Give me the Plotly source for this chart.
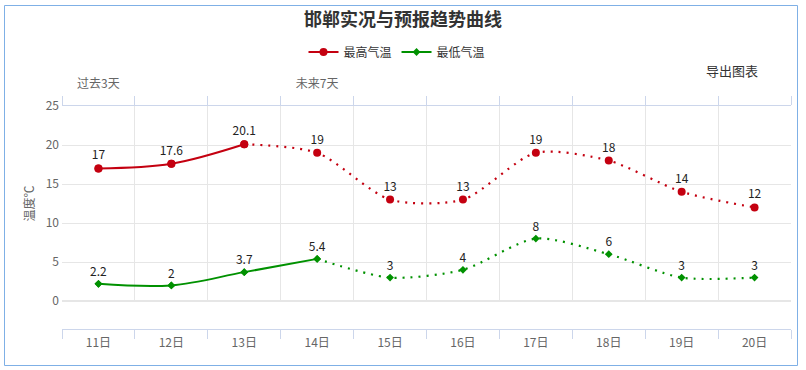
import plotly.graph_objects as go

days = ["11日", "12日", "13日", "14日", "15日", "16日", "17日", "18日", "19日", "20日"]
max_temp = [17, 17.6, 20.1, 19, 13, 13, 19, 18, 14, 12]
min_temp = [2.2, 2, 3.7, 5.4, 3, 4, 8, 6, 3, 3]
max_obs_count = 3   # observed points (solid) for max
min_obs_count = 4   # solid points for min
top_labels = ["过去3天", "", "", "未来7天", "", "", "", "", "", ""]
y_ticks = [0, 5, 10, 15, 20, 25]

RED = "#c40010"
GREEN = "#009100"
FONT = "Noto Sans CJK SC"
AXIS_BLUE = "#ccd6eb"
GRID = "#e6e6e6"
SMOOTH_SOLID = 1.0
SMOOTH_DOT = 0.75

# plot area in px
L, R, T, B = 62, 791, 106, 329
W, H = 806, 370
PW, PH = R - L, B - T


def px_x(x):
    return (x - L) / PW


def px_y(y):
    return (B - y) / PH


def fmt(v):
    return f"{v:g}"


fig = go.Figure()

# max temp
fig.add_trace(go.Scatter(
    x=days[:max_obs_count], y=max_temp[:max_obs_count], name="最高气温",
    mode="lines+markers", line=dict(color=RED, width=2, shape="spline", smoothing=SMOOTH_SOLID),
    marker=dict(symbol="circle", size=8, color=RED), hoverinfo="skip"))
fig.add_trace(go.Scatter(
    x=days[max_obs_count - 1:], y=max_temp[max_obs_count - 1:], showlegend=False,
    mode="lines", line=dict(color=RED, width=2.2, shape="spline", smoothing=SMOOTH_DOT, dash="2px,6px"),
    hoverinfo="skip"))
fig.add_trace(go.Scatter(
    x=days, y=max_temp, showlegend=False, mode="markers+text",
    marker=dict(symbol="circle", size=8, color=RED),
    text=[fmt(v) for v in max_temp], textposition="top center",
    textfont=dict(family=FONT, size=12, color="#222"), hoverinfo="skip"))

# min temp
fig.add_trace(go.Scatter(
    x=days[:min_obs_count], y=min_temp[:min_obs_count], name="最低气温",
    mode="lines+markers", line=dict(color=GREEN, width=2, shape="spline", smoothing=SMOOTH_SOLID),
    marker=dict(symbol="diamond", size=6, color=GREEN), hoverinfo="skip"))
fig.add_trace(go.Scatter(
    x=days[min_obs_count - 1:], y=min_temp[min_obs_count - 1:], showlegend=False,
    mode="lines", line=dict(color=GREEN, width=2.2, shape="spline", smoothing=SMOOTH_DOT, dash="2px,6px"),
    hoverinfo="skip"))
fig.add_trace(go.Scatter(
    x=days, y=min_temp, showlegend=False, mode="markers+text",
    marker=dict(symbol="diamond", size=6, color=GREEN),
    text=[fmt(v) for v in min_temp], textposition="top center",
    textfont=dict(family=FONT, size=12, color="#222"), hoverinfo="skip"))

# dummy trace for top axis
fig.add_trace(go.Scatter(
    x=days, y=max_temp, xaxis="x2", mode="lines", opacity=0, line=dict(width=0),
    showlegend=False, hoverinfo="skip"))

fig.update_layout(
    width=W, height=H,
    margin=dict(l=L, r=W - R, t=T, b=H - B, autoexpand=False),
    paper_bgcolor="white", plot_bgcolor="white",
    font=dict(family=FONT, color="#333"),
    title=dict(text="邯郸实况与预报趋势曲线", x=0.5, xref="container", xanchor="center",
               y=1 - 20 / H, yref="container", yanchor="middle",
               font=dict(size=18, color="#333", family=FONT, weight="bold")),
    legend=dict(orientation="h", x=px_x(397), xanchor="center", y=px_y(52), yanchor="middle",
                font=dict(size=12, color="#333", family=FONT), itemwidth=30,
                bgcolor="rgba(0,0,0,0)"),
    xaxis=dict(type="category", categoryarray=days, range=[-0.5, len(days) - 0.5],
               tickson="boundaries", ticks="outside", ticklen=9, tickcolor=AXIS_BLUE,
               showline=True, linecolor=AXIS_BLUE, linewidth=1,
               showgrid=True, gridcolor=GRID, gridwidth=1,
               anchor="free", position=0, automargin=False, ticklabelstandoff=3,
               tickfont=dict(size=12, color="#666", family=FONT), fixedrange=True),
    xaxis2=dict(type="category", categoryarray=days, range=[-0.5, len(days) - 0.5],
                overlaying="x", side="top", anchor="y", automargin=False,
                tickmode="array", tickvals=days, ticktext=top_labels,
                tickson="boundaries", ticks="outside", ticklen=9, tickcolor=AXIS_BLUE,
                showline=True, linecolor=AXIS_BLUE, linewidth=1, showgrid=False,
                ticklabelstandoff=12,
                tickfont=dict(size=12, color="#666", family=FONT), fixedrange=True),
    yaxis=dict(domain=[px_y(301), 1], range=[0, 25], tickvals=y_ticks,
               showgrid=True, gridcolor=GRID, zeroline=True, zerolinecolor=GRID,
               showline=False, ticks="", automargin=False, ticklabelstandoff=2,
               tickfont=dict(size=12, color="#666", family=FONT),
               title=dict(text="温度℃", font=dict(size=12, color="#666", family=FONT), standoff=8),
               fixedrange=True),
    shapes=[dict(type="rect", xref="paper", yref="paper",
                 x0=px_x(4.5), x1=px_x(797.5), y0=px_y(365.5), y1=px_y(5.5),
                 line=dict(color="#7fb0e6", width=1), fillcolor="rgba(0,0,0,0)")],
    annotations=[dict(text="导出图表", xref="paper", yref="paper", x=px_x(732), y=px_y(70),
                      xanchor="center", yanchor="middle", showarrow=False,
                      font=dict(size=13, color="#333", family=FONT))],
)

fig.write_html("out.html", config={"displayModeBar": False},
               post_script="document.body.style.margin='0';")
